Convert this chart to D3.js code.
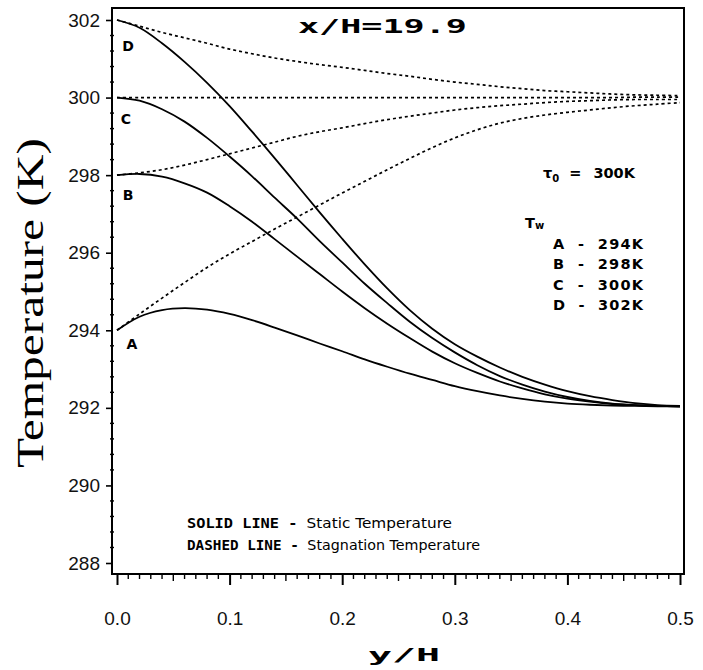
<!DOCTYPE html>
<html>
<head>
<meta charset="utf-8">
<script src="https://cdn.jsdelivr.net/npm/d3@7"></script>
<style>
  html, body { margin: 0; padding: 0; background: #fff; }
  svg { display: block; }
</style>
</head>
<body>
<svg id="chart" width="703" height="670"></svg>
<script>
// Distance from the wall, y/H
const yH = [0, 0.02, 0.04, 0.06, 0.08, 0.10, 0.12, 0.14, 0.16, 0.18, 0.20, 0.22, 0.24,
            0.26, 0.28, 0.30, 0.32, 0.34, 0.36, 0.38, 0.40, 0.42, 0.44, 0.46, 0.48, 0.50];

// Static temperature (K), solid lines
const staticA = [294.00, 294.35, 294.52, 294.57, 294.53, 294.42, 294.26, 294.07, 293.87, 293.66, 293.46, 293.25, 293.06,
                 292.88, 292.72, 292.56, 292.43, 292.32, 292.23, 292.16, 292.11, 292.08, 292.06, 292.05, 292.04, 292.03];
const staticB = [298.00, 298.03, 297.96, 297.79, 297.55, 297.20, 296.80, 296.35, 295.90, 295.45, 295.00, 294.57, 294.17,
                 293.80, 293.45, 293.15, 292.90, 292.68, 292.50, 292.35, 292.24, 292.16, 292.10, 292.07, 292.05, 292.04];
const staticC = [300.00, 299.92, 299.70, 299.38, 298.96, 298.48, 297.97, 297.42, 296.88, 296.30, 295.75, 295.20, 294.70,
                 294.22, 293.80, 293.43, 293.10, 292.82, 292.60, 292.42, 292.28, 292.18, 292.11, 292.07, 292.05, 292.04];
const staticD = [302.00, 301.80, 301.40, 300.92, 300.38, 299.78, 299.12, 298.44, 297.74, 297.04, 296.36, 295.70, 295.08,
                 294.52, 294.04, 293.64, 293.32, 293.04, 292.80, 292.60, 292.43, 292.30, 292.20, 292.12, 292.07, 292.05];

// Stagnation temperature (K), dashed lines
const stagA = [294.00, 294.42, 294.83, 295.23, 295.62, 295.97, 296.29, 296.61, 296.92, 297.23, 297.54, 297.84, 298.14,
               298.43, 298.71, 298.96, 299.17, 299.34, 299.46, 299.55, 299.62, 299.68, 299.74, 299.79, 299.83, 299.87];
const stagB = [298.00, 298.06, 298.14, 298.26, 298.40, 298.55, 298.70, 298.85, 299.00, 299.12, 299.22, 299.33, 299.43,
               299.52, 299.60, 299.68, 299.74, 299.79, 299.83, 299.87, 299.90, 299.92, 299.94, 299.95, 299.95, 299.95];
const stagC = [300.00, 300.00, 300.00, 300.00, 300.00, 300.00, 300.00, 300.00, 300.00, 300.00, 300.00, 300.00, 300.00,
               300.00, 300.00, 300.00, 300.00, 300.00, 300.00, 300.00, 300.00, 300.00, 300.00, 300.01, 300.01, 300.01];
const stagD = [302.00, 301.84, 301.68, 301.54, 301.40, 301.25, 301.13, 301.02, 300.93, 300.85, 300.78, 300.70, 300.62,
               300.55, 300.47, 300.40, 300.34, 300.28, 300.23, 300.18, 300.15, 300.12, 300.09, 300.07, 300.06, 300.05];

const curveLabels = ["A", "B", "C", "D"];
const wallTemps = ["294K", "298K", "300K", "302K"];
const xTicks = [0, 0.1, 0.2, 0.3, 0.4, 0.5];
const yTicks = [288, 290, 292, 294, 296, 298, 300, 302];

const svg = d3.select("#chart");

const x = d3.scaleLinear().domain([0, 0.5]).range([117, 680]);
const y = d3.scaleLinear().domain([288, 302]).range([563, 20]);

const frame = { left: 112, right: 684, top: 8, bottom: 574 };

// Plot frame
svg.append("rect")
  .attr("x", frame.left).attr("y", frame.top)
  .attr("width", frame.right - frame.left).attr("height", frame.bottom - frame.top)
  .attr("fill", "none").attr("stroke", "#000").attr("stroke-width", 2);

// Left axis: major ticks outward, minor ticks every 0.4 K
const yAxis = d3.axisLeft(y).tickValues(yTicks).tickFormat(d3.format("d")).tickSize(6).tickPadding(6);
const gy = svg.append("g").attr("transform", `translate(${frame.left},0)`).call(yAxis);
gy.select(".domain").remove();
gy.selectAll(".tick line").attr("stroke-width", 1.6);
gy.selectAll(".tick text")
  .attr("font-family", "'Liberation Sans', Arial, sans-serif")
  .attr("font-size", 19).attr("fill", "#111");
const yMinor = d3.range(288, 302.01, 0.4).filter(v => Math.abs(v - Math.round(v / 2) * 2) > 0.05);
svg.append("g").selectAll("line").data(yMinor).join("line")
  .attr("x1", frame.left - 2).attr("x2", frame.left + 2)
  .attr("y1", d => y(d)).attr("y2", d => y(d))
  .attr("stroke", "#000").attr("stroke-width", 1.4);

// Bottom axis: ticks hang downward, minor ticks every 0.01
const xAxis = d3.axisBottom(x).tickValues(xTicks).tickFormat(d3.format(".1f")).tickSize(11).tickPadding(27);
const gx = svg.append("g").attr("transform", `translate(0,${frame.bottom})`).call(xAxis);
gx.select(".domain").remove();
gx.selectAll(".tick line").attr("stroke-width", 2);
gx.selectAll(".tick text")
  .attr("font-family", "'Liberation Sans', Arial, sans-serif")
  .attr("font-size", 19).attr("fill", "#111");
const halfStep = d => Math.abs(d * 20 - Math.round(d * 20)) < 0.001;
const xMinor = d3.range(1, 50).map(i => i / 100).filter(v => Math.abs(v * 10 - Math.round(v * 10)) > 0.01);
svg.append("g").selectAll("line").data(xMinor).join("line")
  .attr("x1", d => x(d)).attr("x2", d => x(d))
  .attr("y1", frame.bottom).attr("y2", d => frame.bottom + (halfStep(d) ? 7 : 5))
  .attr("stroke", "#000").attr("stroke-width", 1.4);

// Curves
const line = d3.line().x((d, i) => x(yH[i])).y(d => y(d)).curve(d3.curveCatmullRom);
const plot = svg.append("g");
[stagA, stagB, stagC, stagD].forEach(s => {
  plot.append("path").attr("d", line(s))
    .attr("fill", "none").attr("stroke", "#000")
    .attr("stroke-width", 1.7).attr("stroke-dasharray", "3,3");
});
[staticA, staticB, staticC, staticD].forEach(s => {
  plot.append("path").attr("d", line(s))
    .attr("fill", "none").attr("stroke", "#000").attr("stroke-width", 1.8);
});

// Curve letters next to the wall values
const letterPos = [
  { t: curveLabels[0], v: staticA[0], dx: 19, dy: 19 },
  { t: curveLabels[1], v: staticB[0], dx: 15, dy: 25 },
  { t: curveLabels[2], v: staticC[0], dx: 13, dy: 26 },
  { t: curveLabels[3], v: staticD[0], dx: 15, dy: 31 }
];
svg.append("g").selectAll("text").data(letterPos).join("text")
  .attr("x", d => x(0) + d.dx - 4).attr("y", d => y(d.v) + d.dy)
  .attr("text-anchor", "middle")
  .attr("font-family", "'DejaVu Sans', sans-serif").attr("font-weight", "bold")
  .attr("font-size", 14).text(d => d.t);

// Title
svg.append("text")
  .attr("x", 298).attr("y", 33)
  .attr("font-family", "'DejaVu Sans Mono', monospace").attr("font-weight", "bold")
  .attr("font-size", 19).attr("textLength", 169).attr("lengthAdjust", "spacingAndGlyphs")
  .text("x/H=19.9");

// Axis titles
svg.append("text")
  .attr("transform", "translate(43,303) rotate(-90)")
  .attr("text-anchor", "middle")
  .attr("font-family", "'Liberation Serif', 'Times New Roman', serif")
  .attr("font-size", 37).attr("textLength", 330).attr("lengthAdjust", "spacingAndGlyphs")
  .text("Temperature (K)");

svg.append("text")
  .attr("x", 368).attr("y", 661)
  .attr("font-family", "'DejaVu Sans Mono', monospace").attr("font-weight", "bold")
  .attr("font-size", 18).attr("textLength", 72).attr("lengthAdjust", "spacingAndGlyphs")
  .text("y/H");

// Right-hand legend
const lg = svg.append("g")
  .attr("font-family", "'DejaVu Sans', sans-serif").attr("font-weight", "bold").attr("font-size", 14.5);
const tau = lg.append("text").attr("x", 543).attr("y", 178);
tau.append("tspan").text("τ");
tau.append("tspan").attr("font-size", 10).attr("dy", 4).text("0");
tau.append("tspan").attr("dy", -4).attr("dx", 10).text("=");
tau.append("tspan").attr("dx", 12).text("300K");

const tw = lg.append("text").attr("x", 525).attr("y", 228);
tw.append("tspan").text("T");
tw.append("tspan").attr("font-size", 10).attr("dy", 1).text("w");

lg.selectAll("text.wall").data(curveLabels).join("text")
  .attr("class", "wall")
  .attr("x", 553).attr("y", (d, i) => 249 + i * 20.3)
  .attr("xml:space", "preserve")
  .attr("textLength", 90).attr("lengthAdjust", "spacing")
  .text((d, i) => `${d}  -  ${wallTemps[i]}`);

// Line style key
const key = svg.append("g").attr("font-size", 14);
const k1 = key.append("text").attr("x", 187).attr("y", 528)
  .attr("textLength", 265).attr("lengthAdjust", "spacingAndGlyphs");
k1.append("tspan").attr("font-family", "'DejaVu Sans Mono', monospace").attr("font-weight", "bold").text("SOLID LINE - ");
k1.append("tspan").attr("font-family", "'DejaVu Sans', sans-serif").text("Static Temperature");
const k2 = key.append("text").attr("x", 187).attr("y", 550)
  .attr("textLength", 293).attr("lengthAdjust", "spacingAndGlyphs");
k2.append("tspan").attr("font-family", "'DejaVu Sans Mono', monospace").attr("font-weight", "bold").text("DASHED LINE - ");
k2.append("tspan").attr("font-family", "'DejaVu Sans', sans-serif").text("Stagnation Temperature");
</script>
</body>
</html>
